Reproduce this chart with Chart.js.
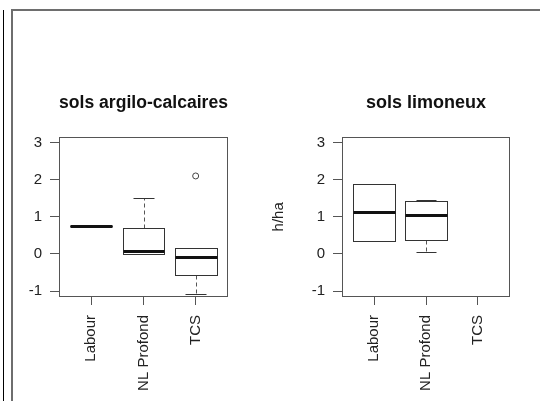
<!DOCTYPE html>
<html>
<head>
<meta charset="utf-8">
<script src="https://cdn.jsdelivr.net/npm/chart.js@4.4.0/dist/chart.umd.min.js"></script>
<style>
  html, body { margin: 0; padding: 0; background: #fff; }
  body { width: 540px; height: 401px; position: relative; overflow: hidden; }
  #rule { position: absolute; left: 3px; top: 10px; width: 1px; height: 391px; background: #000; }
  #frame { position: absolute; left: 11px; top: 9px; width: 540px; height: 400px;
           border-left: 2px solid #6e6e6e; border-top: 2px solid #6e6e6e; }
  canvas { position: absolute; top: 12px; }
  #left { left: 14px; }
  #right { left: 262px; }
</style>
</head>
<body>
<div id="rule"></div>
<div id="frame"></div>
<canvas id="left" width="248" height="389"></canvas>
<canvas id="right" width="278" height="389"></canvas>
<script>
const categories = ["Labour", "NL Profond", "TCS"];
const yTicks = [-1, 0, 1, 2, 3];
const yMin = -1.16;
const yMax = 3.16;

// [lower whisker, Q1, median, Q3, upper whisker], null = no data
const argiloStats = [
  [0.74, 0.74, 0.74, 0.74, 0.74],
  [0.0, 0.0, 0.08, 0.71, 1.5],
  [-1.07, -0.58, -0.09, 0.16, 0.16]
];
const argiloOutliers = [[], [], [2.1]];

const limonStats = [
  [0.34, 0.34, 1.12, 1.89, 1.89],
  [0.04, 0.37, 1.06, 1.43, 1.46],
  null
];
const limonOutliers = [[], [], []];

const FONT = "'Liberation Sans', Arial, Helvetica, sans-serif";

// draws the frame, boxes, medians and whiskers with the chart's own scales
const boxPlugin = {
  id: "boxes",
  beforeDatasetsDraw(chart, args, opts) {
    const { ctx, chartArea: a, scales: { x, y } } = chart;
    const px = v => Math.round(x.getPixelForValue(v)) + 0.5;
    const py = v => Math.round(y.getPixelForValue(v)) + 0.5;
    ctx.save();
    ctx.strokeStyle = "#555";
    ctx.lineWidth = 1;
    ctx.strokeRect(Math.round(a.left) + 0.5, Math.round(a.top) + 0.5,
      Math.round(a.right - a.left) - 1, Math.round(a.bottom - a.top) - 1);

    opts.stats.forEach((s, i) => {
      if (!s) return;
      const [lo, q1, med, q3, hi] = s;
      const c = i + 1;
      const cx = px(c);
      // whiskers
      ctx.strokeStyle = "#555";
      ctx.lineWidth = 1;
      ctx.setLineDash([4, 3]);
      ctx.beginPath();
      ctx.moveTo(cx, py(q3)); ctx.lineTo(cx, py(hi));
      ctx.moveTo(cx, py(q1)); ctx.lineTo(cx, py(lo));
      ctx.stroke();
      ctx.setLineDash([]);
      ctx.strokeStyle = "#333";
      ctx.beginPath();
      ctx.moveTo(px(c - 0.2), py(hi)); ctx.lineTo(px(c + 0.2), py(hi));
      ctx.moveTo(px(c - 0.2), py(lo)); ctx.lineTo(px(c + 0.2), py(lo));
      ctx.stroke();
      // box
      ctx.strokeRect(px(c - 0.4), py(q3), px(c + 0.4) - px(c - 0.4), py(q1) - py(q3));
      // median
      ctx.strokeStyle = "#111";
      ctx.lineWidth = 3;
      ctx.beginPath();
      ctx.moveTo(px(c - 0.4), py(med)); ctx.lineTo(px(c + 0.4), py(med));
      ctx.stroke();
    });
    ctx.restore();
  }
};

function makeChart(id, title, stats, outliers, yTitle, yWidth, padRight) {
  const points = [];
  outliers.forEach((list, i) => list.forEach(v => points.push({ x: i + 1, y: v })));
  return new Chart(document.getElementById(id), {
    type: "scatter",
    data: {
      datasets: [{
        data: points,
        pointRadius: 3,
        pointBackgroundColor: "rgba(0,0,0,0)",
        pointBorderColor: "#444",
        pointBorderWidth: 1
      }]
    },
    options: {
      responsive: false,
      animation: false,
      devicePixelRatio: 1,
      events: [],
      layout: { padding: { left: 0, top: 0, bottom: 0, right: padRight } },
      scales: {
        x: {
          type: "linear",
          min: 0.38,
          max: 3.62,
          afterBuildTicks: s => { s.ticks = categories.map((c, i) => ({ value: i + 1 })); },
          afterFit: s => { s.height = 104; },
          ticks: {
            autoSkip: false,
            minRotation: 90,
            maxRotation: 90,
            padding: 10,
            color: "#222",
            font: { family: FONT, size: 15 },
            callback: v => categories[v - 1]
          },
          grid: { drawOnChartArea: false, drawTicks: true, tickLength: 8, color: "#555" },
          border: { display: false }
        },
        y: {
          min: yMin,
          max: yMax,
          afterBuildTicks: s => { s.ticks = yTicks.map(v => ({ value: v })); },
          afterFit: s => { s.width = yWidth; },
          ticks: {
            padding: 8,
            color: "#222",
            font: { family: FONT, size: 15 }
          },
          grid: { drawOnChartArea: false, drawTicks: true, tickLength: 9, color: "#555" },
          border: { display: false },
          title: {
            display: !!yTitle,
            text: yTitle || "",
            color: "#222",
            font: { family: FONT, size: 15 },
            padding: { top: 7.5, bottom: 0 }
          }
        }
      },
      plugins: {
        legend: { display: false },
        tooltip: { enabled: false },
        title: {
          display: true,
          text: title,
          fullSize: false,
          color: "#111",
          font: { family: FONT, size: 18, weight: "bold" },
          padding: { top: 80, bottom: 23 }
        },
        boxes: { stats: stats }
      }
    },
    plugins: [boxPlugin]
  });
}

makeChart("left", "sols argilo-calcaires", argiloStats, argiloOutliers, null, 45, 34);
makeChart("right", "sols limoneux", limonStats, limonOutliers, "h/ha", 80, 30);
</script>
</body>
</html>
